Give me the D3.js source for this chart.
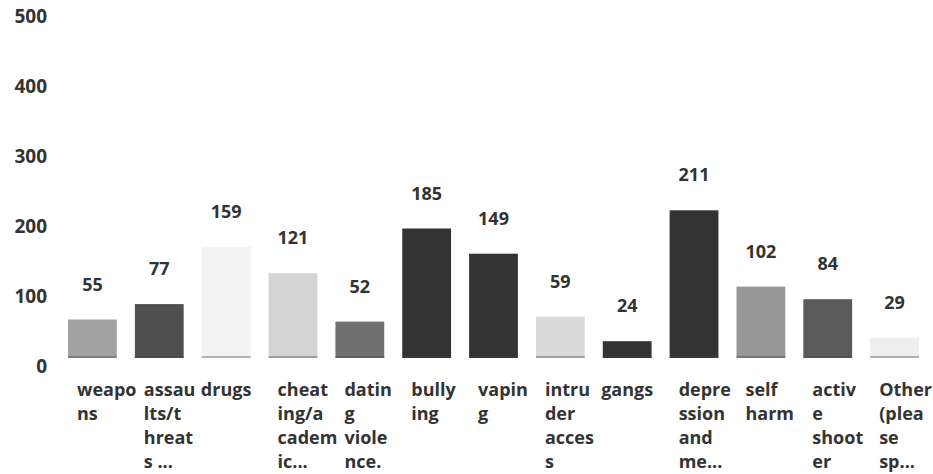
<!DOCTYPE html>
<html>
<head>
<meta charset="utf-8">
<script src="https://cdn.jsdelivr.net/npm/d3@7"></script>
<style>
  body { margin: 0; background: #fff; }
  text { font-family: "Open Sans", sans-serif; font-weight: 700; fill: #333; }
</style>
</head>
<body>
<svg id="chart" width="933" height="474"></svg>
<script>
let categories = ["weapons", "assaults/threats", "drugs", "cheating/academic", "dating violence", "bullying", "vaping",
  "intruder access", "gangs", "depression and mental health", "self harm", "active shooter", "Other (please specify)"];
let counts = [55, 77, 159, 121, 52, 185, 149, 59, 24, 211, 102, 84, 29];
let labelLines = [["weapo", "ns"], ["assau", "lts/t", "hreat", "s ..."], ["drugs"], ["cheat", "ing/a", "cadem", "ic..."],
  ["datin", "g", "viole", "nce."], ["bully", "ing"], ["vapin", "g"], ["intru", "der", "acces", "s"], ["gangs"],
  ["depre", "ssion", "and", "me..."], ["self", "harm"], ["activ", "e", "shoot", "er"], ["Other", "(plea", "se", "sp..."]];
let barColors = ["#a2a2a2", "#4f4f4f", "#f3f3f3", "#d4d4d4", "#707070", "#333333", "#333333",
  "#dadada", "#333333", "#333333", "#979797", "#5a5a5a", "#eeeeee"];
let yTicks = [0, 100, 200, 300, 400, 500];

let svg = d3.select("#chart");

let x = d3.scaleBand()
    .domain(categories)
    .range([59, 928])
    .paddingInner(0.27)
    .paddingOuter(0.135);

let y = d3.scaleLinear()
    .domain([0, 500])
    .range([358, 8]);

// y tick labels, no axis line
let yAxis = d3.axisLeft(y).tickValues(yTicks).tickSize(0).tickPadding(0);
let gy = svg.append("g")
    .attr("transform", "translate(47,0)")
    .call(yAxis);
gy.select(".domain").remove();
gy.selectAll("text")
    .attr("font-size", 19)
    .attr("font-family", null)
    .attr("dy", "0.78em")
    .attr("fill", "#333");

let bars = svg.selectAll(".bar")
    .data(counts)
    .enter()
    .append("g")
    .attr("class", "bar");

bars.append("rect")
    .attr("x", (d, i) => x(categories[i]))
    .attr("y", d => y(d))
    .attr("width", x.bandwidth())
    .attr("height", d => y(0) - y(d))
    .attr("fill", (d, i) => barColors[i]);

// thin darker line at bar foot, like in the print
bars.append("line")
    .attr("x1", (d, i) => x(categories[i]))
    .attr("x2", (d, i) => x(categories[i]) + x.bandwidth())
    .attr("y1", y(0) - 1)
    .attr("y2", y(0) - 1)
    .attr("stroke", "#444")
    .attr("stroke-opacity", 0.5)
    .attr("stroke-width", 1.5);

bars.append("text")
    .attr("x", (d, i) => x(categories[i]) + x.bandwidth() / 2)
    .attr("y", d => y(d) - 29)
    .attr("text-anchor", "middle")
    .attr("font-size", 18)
    .text(d => d);

// wrapped category labels
labelLines.forEach(function(lines, i) {
    let single = lines.length === 1;
    let t = svg.append("text")
        .attr("font-size", 18)
        .attr("text-anchor", single ? "middle" : "start")
        .attr("x", single ? x(categories[i]) + x.bandwidth() / 2 : x(categories[i]) + 9)
        .attr("y", 396);
    lines.forEach(function(line, j) {
        t.append("tspan")
            .attr("x", t.attr("x"))
            .attr("dy", j === 0 ? 0 : 24)
            .text(line);
    });
});
</script>
</body>
</html>
